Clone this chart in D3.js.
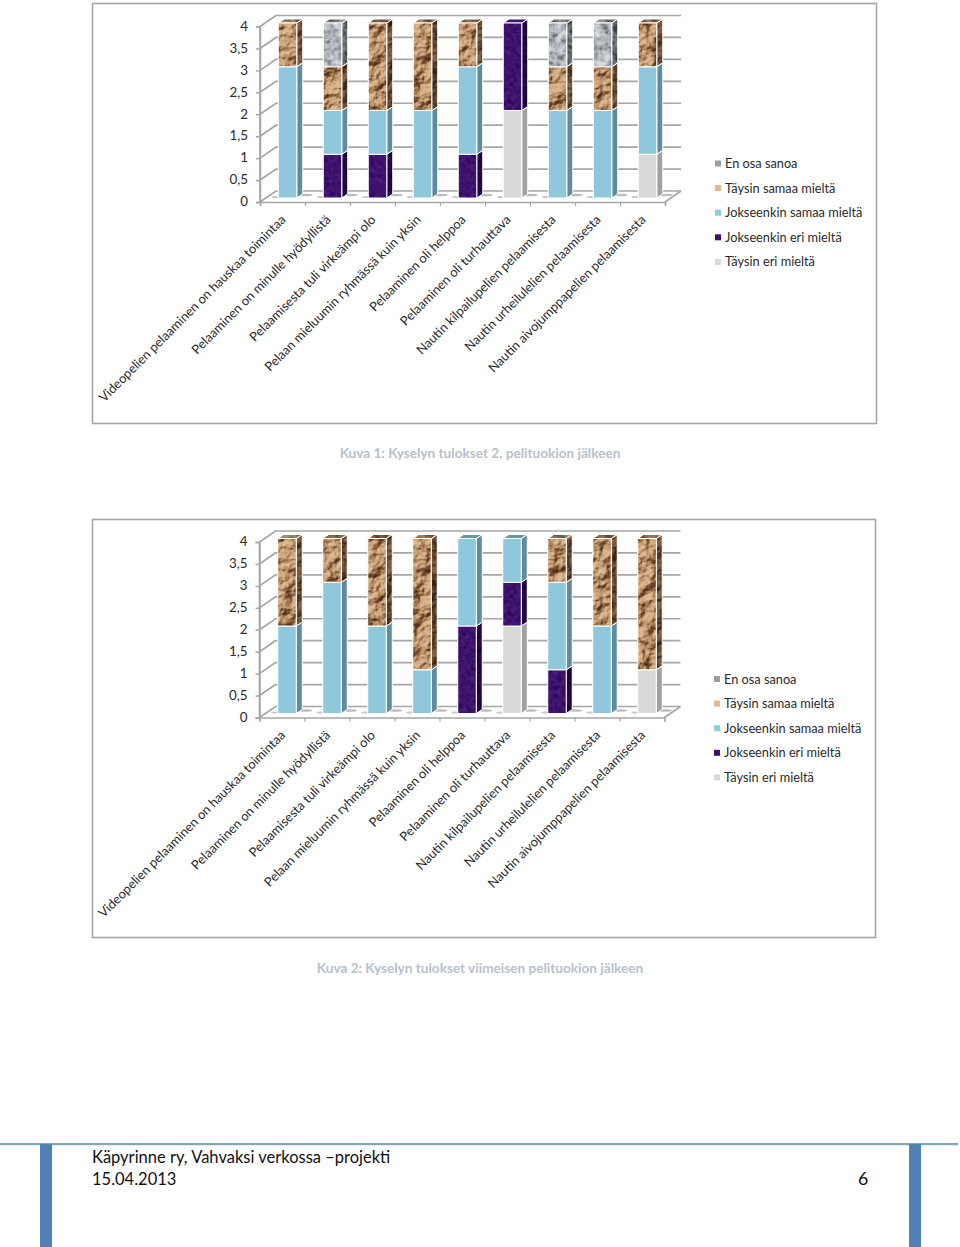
<!DOCTYPE html>
<html><head><meta charset="utf-8">
<script src="https://cdn.jsdelivr.net/npm/d3@7"></script>
<style>html,body{margin:0;padding:0;background:#fff}svg{display:block}text{font-family:Lato,"Open Sans",sans-serif}</style>
</head><body><svg id="c" width="960" height="1247"></svg>
<script>
const categories=["Videopelien pelaaminen on hauskaa toimintaa","Pelaaminen on minulle hyödyllistä","Pelaamisesta tuli virkeämpi olo","Pelaan mieluumin ryhmässä kuin yksin","Pelaaminen oli helppoa","Pelaaminen oli turhauttava","Nautin kilpailupelien pelaamisesta","Nautin urheilulelien pelaamisesta","Nautin aivojumppapelien pelaamisesta"];
const seriesNames=["Täysin eri mieltä","Jokseenkin eri mieltä","Jokseenkin samaa mieltä","Täysin samaa mieltä","En osa sanoa"];
const yTicks=[0,0.5,1,1.5,2,2.5,3,3.5,4];
const chart1TaysinEri=[0,0,0,0,0,2,0,0,1];
const chart1JokEri=[0,1,1,0,1,2,0,0,0];
const chart1JokSamaa=[3,1,1,2,2,0,2,2,2];
const chart1TaysinSamaa=[1,1,2,2,1,0,1,1,1];
const chart1EnOsa=[0,1,0,0,0,0,1,1,0];
const chart2TaysinEri=[0,0,0,0,0,2,0,0,1];
const chart2JokEri=[0,0,0,0,2,1,1,0,0];
const chart2JokSamaa=[2,3,2,1,2,1,2,2,0];
const chart2TaysinSamaa=[2,1,2,3,0,0,1,2,3];
const chart2EnOsa=[0,0,0,0,0,0,0,0,0];
const captions=["Kuva 1: Kyselyn tulokset 2. pelituokion jälkeen","Kuva 2: Kyselyn tulokset viimeisen pelituokion jälkeen"];
const footerLines=["Käpyrinne ry, Vahvaksi verkossa –projekti","15.04.2013"];
const pageNumber="6";

const fmt=v=>String(v).replace(".",",");
const svg=d3.select("#c");
const defs=svg.append("defs");
function texture(id,freq,oct,seed,stops,size,relief){
  const f=defs.append("filter").attr("id","f"+id).attr("x",0).attr("y",0).attr("width","100%").attr("height","100%").attr("color-interpolation-filters","sRGB");
  f.append("feTurbulence").attr("type","fractalNoise").attr("baseFrequency",freq).attr("numOctaves",oct).attr("seed",seed).attr("stitchTiles","stitch").attr("result","n");
  if(relief){
    const l=f.append("feDiffuseLighting").attr("in","n").attr("surfaceScale",relief).attr("diffuseConstant",1).attr("lighting-color","#fff");
    l.append("feDistantLight").attr("azimuth",225).attr("elevation",48);
  } else {
    f.append("feColorMatrix").attr("type","matrix").attr("values","1.6 1.2 0 0 -0.9  1.6 1.2 0 0 -0.9  1.6 1.2 0 0 -0.9  0 0 0 0 1");
  }
  const ct=f.append("feComponentTransfer");
  ["R","G","B"].forEach((c,i)=>ct.append("feFunc"+c).attr("type","table").attr("tableValues",stops.map(s=>s[i]/255).join(" ")));
  const p=defs.append("pattern").attr("id",id).attr("patternUnits","userSpaceOnUse").attr("width",size).attr("height",size);
  p.append("rect").attr("width",size).attr("height",size).attr("filter","url(#f"+id+")");
}
texture("brown","0.06 0.07",5,7,[[80,46,24],[104,68,40],[138,98,64],[176,134,94],[200,160,120],[222,188,150]],128,7);
texture("brownD","0.06 0.07",5,3,[[44,26,12],[70,46,28],[100,72,48],[136,104,76]],128,7);
texture("brownT","0.1 0.1",3,5,[[90,62,44],[132,104,80],[170,142,116]],128);
texture("gran","0.13",4,11,[[110,114,120],[152,156,162],[180,184,190],[198,202,207],[216,219,223]],128);
texture("granD","0.16",4,12,[[50,54,58],[84,88,92],[112,116,120],[136,140,144]],128);
texture("granT","0.2",3,13,[[90,92,96],[124,126,130],[150,152,156]],128);
texture("purp","0.22",3,21,[[46,10,92],[58,16,104],[66,22,114],[74,28,124]],128);
texture("purpD","0.22",3,22,[[22,4,48],[32,8,62],[40,12,74]],128);

const styles={
 "Täysin eri mieltä":{front:"#d9d9d9",side:"#a0a0a0",top:"#c8c8c8",key:"#d9d9d9"},
 "Jokseenkin eri mieltä":{front:"url(#purp)",side:"url(#purpD)",top:"#3a1470",key:"#3c1068"},
 "Jokseenkin samaa mieltä":{front:"#8fc8dc",side:"#5f8b9c",top:"#6a97a8",key:"#92cbdf"},
 "Täysin samaa mieltä":{front:"url(#brown)",side:"url(#brownD)",top:"url(#brownT)",key:"#e3b890"},
 "En osa sanoa":{front:"url(#gran)",side:"url(#granD)",top:"url(#granT)",key:"#9a9ea2"}
};

function drawChart(o){
  const g=svg.append("g");
  g.append("rect").attr("x",o.frame[0]+.5).attr("y",o.frame[1]+.5).attr("width",o.frame[2]-o.frame[0]).attr("height",o.frame[3]-o.frame[1]).attr("fill","#fff").attr("stroke","#a6a6a6").attr("stroke-width",1.6);
  const wx=16,wy=11,bx=6,by=4;
  const x=d3.scaleBand().domain(categories).range([o.x0,o.x1]);
  const y=d3.scaleLinear().domain([0,4]).range([o.y0,o.y4]);
  const axisCol="#a6a6a6";
  const wall=g.append("g").attr("stroke",axisCol).attr("fill","none").attr("stroke-width",1.7);
  yTicks.forEach(t=>{
    wall.append("path").attr("d",`M${o.x0},${y(t)}l${wx},${-wy}l${o.x1-o.x0},0`);
  });
  wall.append("path").attr("d",`M${o.x0},${o.y0}V${o.y4}`);
  wall.append("path").attr("d",`M${o.x1},${o.y0}l${wx},${-wy}`);
  const ax=g.append("g").attr("transform",`translate(${o.x0},0)`).call(d3.axisLeft(y).tickValues(yTicks).tickFormat(fmt).tickSize(4).tickPadding(8));
  ax.select(".domain").attr("stroke",axisCol).attr("stroke-width",1.5);
  ax.selectAll(".tick line").attr("stroke",axisCol).attr("stroke-width",1.5);
  ax.selectAll("text").attr("font-size",13.4).attr("fill","#2a2a2a").attr("font-family","Lato").attr("dy","0.28em");
  const bot=g.append("g").attr("transform",`translate(0,${o.y0})`).call(d3.axisBottom(d3.scalePoint().domain(d3.range(10)).range([o.x0,o.x1])).tickSize(4).tickFormat(""));
  bot.select(".domain").attr("stroke",axisCol).attr("stroke-width",1.5);
  bot.selectAll(".tick line").attr("stroke",axisCol).attr("stroke-width",1.2);
  const rows=categories.map((c,i)=>{const r={c};seriesNames.forEach((s,k)=>r[s]=o.series[k][i]);return r;});
  const stacked=d3.stack().keys(seriesNames)(rows);
  const bw=18.5, yb=d3.scaleLinear().domain([0,4]).range([o.y0-4,o.y4-3.5]);
  const cx=c=>x(c)+x.bandwidth()/2+5;
  rows.forEach(r=>{
    g.append("ellipse").attr("cx",cx(r.c)+bw/2+9).attr("cy",o.y0-7).attr("rx",7).attr("ry",1.3).attr("fill","#bdbdbd");
    g.append("ellipse").attr("cx",cx(r.c)-bw/2-3).attr("cy",o.y0-5).attr("rx",3.5).attr("ry",1).attr("fill","#c9c9c9");
  });
  stacked.forEach(layer=>{
    const st=styles[layer.key];
    layer.forEach(d=>{
      if(d[1]-d[0]<=0)return;
      const c=d.data.c,l=cx(c)-bw/2,r=l+bw,t=yb(d[1]),b=yb(d[0]);
      const lg=g.append("g").attr("stroke","#fff").attr("stroke-width",1);
      lg.append("path").attr("d",`M${r},${b}L${r+bx},${b-by}V${t-by}L${r},${t}Z`).attr("fill",st.side);
      lg.append("path").attr("d",`M${l},${t}L${l+bx},${t-by}H${r+bx}L${r},${t}Z`).attr("fill",st.top);
      lg.append("rect").attr("x",l).attr("y",t).attr("width",bw).attr("height",b-t).attr("fill",st.front);
    });
  });
  categories.forEach((c,i)=>{
    g.append("text").attr("transform",`translate(${cx(c)-1},${o.y0+18.5}) rotate(-45)`).attr("text-anchor","end").attr("font-size",12.85).attr("fill","#2a2a2a").text(c);
  });
  const lg=g.append("g");
  seriesNames.slice().reverse().forEach((s,i)=>{
    const yy=o.legY+i*24.6;
    lg.append("rect").attr("x",o.legX).attr("y",yy-3).attr("width",6).attr("height",6).attr("fill",styles[s].key);
    lg.append("text").attr("x",o.legX+10).attr("y",yy+4.5).attr("font-size",12.75).attr("fill","#2a2a2a").text(s);
  });
}
drawChart({frame:[92,3,876,423],x0:260,x1:665,y0:202,y4:26.5,legX:715,legY:163.5,series:[chart1TaysinEri,chart1JokEri,chart1JokSamaa,chart1TaysinSamaa,chart1EnOsa]});
drawChart({frame:[92,519,875,937],x0:259.5,x1:664.5,y0:717.5,y4:542,legX:714,legY:679,series:[chart2TaysinEri,chart2JokEri,chart2JokSamaa,chart2TaysinSamaa,chart2EnOsa]});

[[457.5,captions[0]],[973,captions[1]]].forEach(([yy,t])=>{
  svg.append("text").attr("x",480).attr("y",yy).attr("text-anchor","middle").attr("font-size",13.6).attr("font-weight",700).attr("fill","#b7c1ca").text(t);
});
svg.append("rect").attr("x",0).attr("y",1143).attr("width",958).attr("height",2.2).attr("fill","#7fa7b5");
[40,909].forEach(xx=>svg.append("rect").attr("x",xx).attr("y",1144).attr("width",12).attr("height",103).attr("fill","#4f81b5"));
footerLines.forEach((t,i)=>svg.append("text").attr("x",92).attr("y",1163+i*22).attr("font-size",16.5).attr("fill","#111").text(t));
svg.append("text").attr("x",858).attr("y",1185).attr("font-size",17.8).attr("fill","#111").text(pageNumber);
</script></body></html>
